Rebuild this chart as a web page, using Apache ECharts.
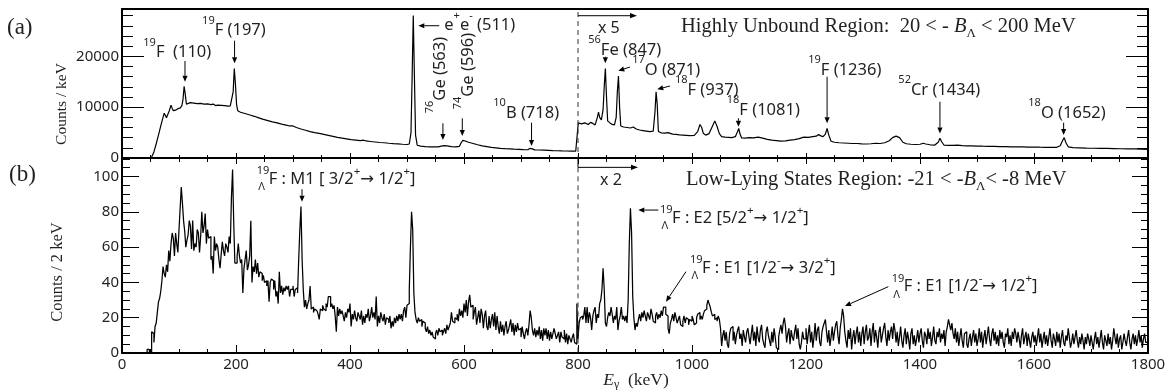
<!DOCTYPE html>
<html><head><meta charset="utf-8">
<script src="https://cdn.jsdelivr.net/npm/echarts@6/dist/echarts.min.js"></script>
<style>html,body{margin:0;padding:0;background:#fff}#c{width:1169px;height:390px}</style>
</head><body><div id="c"></div>
<script>
// ---------------- DATA ----------------
// Energy axis (keV)
const E_MIN = 0, E_MAX = 1800, E_STEP = 200;
const xTickLabels = ['0','200','400','600','800','1000','1200','1400','1600','1800'];
// Panel (a): counts / keV (region above 800 keV shown x5)
const topEnergy = [
 0,48,52,56,60,64,68,72,74,76,78,80,83,86,88,90,94,98,102,105,107,109,111,113,116,120,126,132,138,144,150,156,160,164,168,174,180,186,190,193,195,197,199,201,203,208,214,220,226,232,240,248,256,264,272,280,288,294,297,300,306,314,322,330,338,346,354,362,370,378,386,394,402,410,418,424,428,436,444,452,460,468,476,484,492,500,504,507,509,511,513,515,518,524,532,540,548,555,560,565,570,578,585,592,595,598,602,608,616,624,632,640,648,656,664,672,680,688,696,704,712,716,718,720,724,732,740,748,756,764,772,780,788,796,799.5,
 800.5,806,812,818,822,826,830,834,836,838,841,844,846,848,850,852,856,860,864,867,869,871,873,875,880,886,892,897,902,908,914,920,926,932,935,937,939,941,946,952,958,961,966,972,978,984,990,996,1004,1010,1014,1017,1020,1024,1030,1036,1040,1044,1048,1052,1058,1064,1070,1076,1080,1082,1084,1087,1094,1100,1108,1116,1124,1132,1140,1148,1156,1164,1172,1180,1188,1196,1204,1212,1218,1222,1226,1230,1234,1237,1240,1244,1250,1258,1266,1274,1282,1290,1298,1306,1314,1322,1330,1338,1346,1352,1358,1364,1370,1376,1384,1392,1400,1406,1410,1418,1426,1432,1435,1438,1442,1450,1458,1466,1474,1482,1490,1500,1510,1520,1530,1540,1550,1560,1570,1580,1590,1600,1610,1620,1630,1640,1646,1650,1653,1656,1660,1668,1680,1692,1704,1716,1728,1740,1752,1764,1776,1788,1800
];
const topCounts = [
 0,0,200,1200,2800,4500,6300,8000,8800,8400,7900,8200,9300,10400,9800,9300,9400,9700,9800,10300,11500,14100,12500,10600,10500,10900,10800,10700,10750,10600,10650,10500,10600,10300,10400,10350,10300,10200,10250,10500,13000,17600,14500,10500,9300,9000,8800,8600,8400,8200,7900,7600,7350,7100,6900,6650,6450,6300,6600,6300,6000,5700,5450,5200,5000,4850,4650,4450,4250,4050,3900,3750,3600,3500,3400,3500,3350,3250,3150,3050,3000,2900,2820,2760,2700,2650,2750,5000,16000,28000,16000,4500,2500,2350,2250,2200,2180,2200,2350,2450,2400,2250,2200,2300,3000,3450,3350,3100,2850,2600,2400,2250,2100,2000,1900,1830,1780,1730,1690,1650,1620,1900,2250,1800,1600,1570,1540,1500,1460,1430,1400,1380,1360,1340,1330,
 6900,6700,6900,6600,7000,6800,6500,8000,9000,8000,7500,9500,14000,17600,12000,7300,6900,6600,6500,8000,13000,16100,10000,6300,6100,6000,5900,6100,5700,5500,5400,5300,5200,5300,9000,13000,10500,5200,4950,4900,5000,4800,4700,4650,4550,4500,4450,4400,4450,5200,6600,6000,4800,4500,4800,6300,7300,6200,4800,4200,4100,4050,4000,4200,5200,5800,4800,3950,3900,4000,3950,4100,3900,3650,3500,3400,3300,3350,3500,3600,3800,4100,4050,4200,4300,4600,4350,4200,4700,5800,4500,3300,3100,3000,2950,2900,2850,2850,2780,2750,2800,2900,2850,3000,3400,4000,4300,4000,3100,2800,2700,2650,2700,2900,2750,2600,2550,3100,3900,3200,2550,2500,2480,2550,2450,2400,2380,2350,2320,2300,2280,2250,2250,2200,2200,2180,2150,2150,2120,2100,2080,2100,2400,3400,4000,3000,2200,2050,2000,1950,1920,1900,1880,1850,1820,1800,1780,1740,1700
];
// Panel (b): counts / 2 keV, 2 keV bins from 0 keV (region above 800 keV shown x2)
const lowBinWidth = 2;
const lowCounts = [
 0,0,0,0,0,0,0,0,0,0,0,0,0,0,0,0,0,0,0,0,0,0,0,2,2,0,0,12,11,6,15,17,23,29,31,35,41,49,45,43,50,46,58,52,62,68,65,55,68,62,
 57,70,82,94,85,75,69,60,64,67,75,72,59,75,58,62,60,70,68,57,66,80,68,72,79,62,70,65,66,53,55,45,66,58,62,60,53,48,56,63,58,55,62,60,57,66,62,88,104,74,
 51,51,55,62,55,51,53,34,48,53,58,47,50,55,75,40,49,46,53,45,51,43,46,45,41,44,40,41,38,41,29,40,42,41,36,41,32,35,28,46,34,38,33,37,35,38,36,38,32,36,
 36,38,32,36,37,34,53,70,83,53,36,26,30,25,28,30,38,25,26,23,25,24,25,22,19,25,24,27,25,24,28,26,32,32,26,28,25,27,21,12,26,21,25,22,24,21,18,23,20,25,
 23,28,15,22,19,24,20,18,23,21,19,24,16,21,17,22,20,25,18,21,26,20,23,19,32,15,21,17,23,20,18,22,16,20,19,17,21,14,18,15,20,17,21,18,22,19,22,18,24,26,
 20,27,28,36,60,80,70,34,23,19,17,20,18,19,15,18,17,14,12,15,11,13,10,12,9,8,11,13,10,14,12,13,10,12,14,11,16,13,15,17,23,18,17,20,19,22,18,25,21,24,
 20,28,23,30,21,29,33,26,27,19,23,26,16,20,24,17,25,22,14,21,24,15,13,21,14,19,22,15,23,13,21,15,11,18,12,16,10,15,18,11,13,16,19,12,17,10,16,12,17,13,
 14,9,15,11,8,12,14,10,16,24,20,13,10,14,9,13,10,15,8,13,7,14,10,14,8,13,7,12,8,11,14,11,8,10,12,6,12,9,8,13,6,11,5,10,8,6,9,11,6,5,
 28,8,17,20,21,19,21,26,17,26,17,23,20,13,21,24,26,17,22,20,28,30,36,48,36,17,15,20,23,21,26,22,17,21,19,26,13,18,21,26,19,21,18,21,17,30,62,82,68,32,
 20,13,17,15,19,22,18,23,20,24,21,18,23,21,19,25,22,18,17,21,23,19,22,20,24,21,26,26,22,21,14,11,17,19,22,18,23,20,17,19,21,16,15,18,21,17,20,19,16,19,
 18,21,19,16,17,20,22,23,19,21,19,22,24,25,27,30,28,26,23,21,22,19,20,18,21,19,14,4,10,13,7,12,5,3,11,14,15,7,12,5,10,13,15,8,11,4,13,9,6,12,
 14,9,5,11,16,7,12,4,15,9,6,13,16,8,5,3,12,15,10,7,4,12,6,14,9,3,2,9,13,16,11,17,20,15,6,11,14,5,13,9,7,12,16,8,14,5,2,6,12,8,
 8,14,5,11,16,6,12,3,9,17,7,13,15,6,4,12,15,17,19,12,6,13,4,9,15,7,12,16,18,10,5,14,19,25,21,12,7,3,13,8,14,2,9,13,5,11,15,6,12,4,
 11,15,5,12,16,7,9,14,4,12,17,6,13,9,3,12,15,6,10,14,17,9,4,13,7,12,15,8,17,13,6,12,4,9,15,7,3,10,14,5,12,8,2,11,14,5,10,4,8,13,
 6,11,14,7,3,12,10,5,14,8,12,4,9,15,7,5,12,9,14,6,11,8,13,4,12,15,19,16,13,17,11,8,14,6,12,4,9,14,7,3,11,12,5,3,8,11,4,9,13,6,
 11,4,8,14,6,12,3,9,13,5,10,15,8,4,11,14,7,12,5,10,4,13,8,12,6,3,11,9,14,5,10,4,12,8,14,11,6,12,8,3,10,14,5,9,12,4,11,7,3,9,
 12,6,10,4,9,14,6,11,3,8,12,5,10,4,9,14,7,3,11,8,4,12,6,11,3,9,13,6,4,10,7,14,9,3,6,11,5,9,13,7,3,9,5,11,7,2,9,5,11,8,
 4,10,6,2,8,12,5,9,3,8,13,6,2,10,7,4,11,5,9,2,7,14,9,5,11,3,8,10,2,6,11,7,4,9,13,6,2,8,11,5,10,4,8,13,6,10,3,8,11,6
];
const scaleBoundary = 800; // keV where the x5 / x2 scaling begins

// ---------------- STYLE / LAYOUT ----------------
const SANS = "'Noto Sans', 'DejaVu Sans', sans-serif";
const SERIF = "'Liberation Serif', 'DejaVu Serif', serif";
const INK = '#231f20';
const TOP_MAX = 29300, LOW_MAX = 110.5;

const chart = echarts.init(document.getElementById('c'), null, {renderer: 'canvas'});

function xAx(grid, pos, majorLen, minorLen, labels) {
  return {
    type: 'value', gridIndex: grid, position: pos, min: E_MIN, max: E_MAX, interval: E_STEP,
    axisLine: {show: true, onZero: false, lineStyle: {color: '#000', width: 2}},
    axisTick: {show: majorLen > 0, inside: true, length: majorLen, lineStyle: {color: '#000', width: 1}},
    minorTick: {show: minorLen > 0, splitNumber: 4, length: minorLen, lineStyle: {color: '#000', width: 1}},
    axisLabel: labels ? {show: true, fontFamily: SANS, fontSize: 15, color: INK, margin: 4,
      formatter: v => { const i = Math.round((v - E_MIN) / E_STEP); return (Math.abs(v - (E_MIN + i * E_STEP)) < 1e-6 && xTickLabels[i] !== undefined) ? xTickLabels[i] : ''; }} : {show: false},
    splitLine: {show: false}, minorSplitLine: {show: false}
  };
}
function yAx(grid, pos, max, interval, len, labelEvery, line) {
  return {
    type: 'value', gridIndex: grid, position: pos, min: 0, max: max, interval: interval,
    axisLine: {show: line, onZero: false, lineStyle: {color: '#000', width: 2}},
    axisTick: {show: true, inside: true, length: len, lineStyle: {color: '#000', width: 1}},
    axisLabel: labelEvery ? {show: true, fontFamily: SANS, fontSize: 15, color: INK, margin: 3,
      formatter: v => (Math.abs(v % labelEvery) < 1e-9 ? String(v) : '')} : {show: false},
    splitLine: {show: false}
  };
}

const lowData = lowCounts.map((v, i) => [i * lowBinWidth, v]);
lowData.push([lowCounts.length * lowBinWidth, lowCounts[lowCounts.length - 1]]);

chart.setOption({
  animation: false,
  backgroundColor: '#fff',
  textStyle: {fontFamily: SANS},
  grid: [
    {left: 122, right: 21, top: 9, height: 149, outerBoundsMode: 'none', containLabel: false},
    {left: 122, right: 21, top: 158, height: 195, outerBoundsMode: 'none', containLabel: false}
  ],
  xAxis: [
    xAx(0, 'bottom', 5, 3, false),
    xAx(0, 'top', 0, 0, false),
    xAx(1, 'bottom', 8, 4, true),
    xAx(1, 'top', 6, 4, false)
  ],
  yAxis: [
    yAx(0, 'left', TOP_MAX, 10000, 22, 10000, true),
    yAx(0, 'left', TOP_MAX, 2000, 11, 0, false),
    yAx(0, 'right', TOP_MAX, 10000, 22, 0, true),
    yAx(0, 'right', TOP_MAX, 2000, 11, 0, false),
    yAx(1, 'left', LOW_MAX, 20, 17, 20, true),
    yAx(1, 'left', LOW_MAX, 5, 8, 0, false),
    yAx(1, 'right', LOW_MAX, 20, 16, 0, true),
    yAx(1, 'right', LOW_MAX, 5, 7, 0, false)
  ],
  series: [
    {type: 'line', xAxisIndex: 0, yAxisIndex: 0, symbol: 'none', showSymbol: false,
     data: topEnergy.map((e, i) => [e, topCounts[i]]),
     lineStyle: {color: '#000', width: 1.2}, z: 3},
    {type: 'line', xAxisIndex: 2, yAxisIndex: 4, symbol: 'none', showSymbol: false, step: 'start',
     data: lowData, lineStyle: {color: '#000', width: 1.25}, z: 3}
  ]
});

// ---------------- ANNOTATIONS ----------------
const P = (g, x, y) => chart.convertToPixel(g === 0 ? {xAxisIndex: 0, yAxisIndex: 0} : {xAxisIndex: 2, yAxisIndex: 4}, [x, y]);
const els = [];
const FS = 16.5;
const richA = {
  n: {fontFamily: SANS, fontSize: FS, lineHeight: 30, fill: INK},
  s: {fontFamily: SANS, fontSize: 11, height: 10, verticalAlign: 'top', fill: INK},
  p: {fontFamily: SANS, fontSize: 11.5, height: 14, verticalAlign: 'top', fill: INK}
};
const richT = {
  n: {fontFamily: SERIF, fontSize: 20.5, lineHeight: 26, fill: INK},
  i: {fontFamily: SERIF, fontSize: 20.5, fontStyle: 'italic', lineHeight: 26, fill: INK},
  b: {fontFamily: SERIF, fontSize: 13, height: 13, verticalAlign: 'bottom', fill: INK}
};
function addText(x, y, text, rich, opt) {
  opt = opt || {};
  const st = {text: text, x: 0, y: 0, fill: INK, fontFamily: opt.family || SANS, fontSize: opt.size || FS,
    align: opt.align || 'left', textAlign: opt.align || 'left', verticalAlign: 'middle', textVerticalAlign: 'middle'};
  if (rich) st.rich = rich;
  els.push({type: 'text', x: x, y: y, rotation: opt.rot || 0, silent: true, z: 60, style: st});
}
function addArrow(a, b, head) {
  head = head || 6;
  const dx = b[0] - a[0], dy = b[1] - a[1], L = Math.hypot(dx, dy) || 1;
  const ux = dx / L, uy = dy / L, nx = -uy, ny = ux, w = 2.6;
  const bx = b[0] - ux * head, by = b[1] - uy * head;
  els.push({type: 'line', silent: true, z: 60, shape: {x1: a[0], y1: a[1], x2: bx, y2: by}, style: {stroke: '#000', lineWidth: 1}});
  els.push({type: 'polygon', silent: true, z: 60, shape: {points: [[b[0], b[1]], [bx + nx * w, by + ny * w], [bx - nx * w, by - ny * w]]}, style: {fill: '#000'}});
}

// Panel (a) peak labels: text anchor (left-middle, data coords) + arrow (tail, head)
const topNotes = [
  {t: '{s|19}{n|F  (110)}', at: [37.4, 20700], arrow: [[110.5, 19070], [110.5, 15000]]},
  {t: '{s|19}{n|F (197)}', at: [140.5, 25030], arrow: [[197.5, 23060], [197.5, 18620]]},
  {t: '{n|e}{s|+}{n|e}{s|-}{n| (511)}', at: [565.4, 26010], arrow: [[556.7, 26010], [519.8, 26010]]},
  {t: '{s|76}{n|Ge (563)}', at: [558, 16320], rot: true, arrow: [[563, 6820], [563, 3540]]},
  {t: '{s|74}{n|Ge (596)}', at: [607.5, 17100], rot: true, arrow: [[597, 7800], [597, 4330]]},
  {t: '{s|10}{n|B (718)}', at: [651.4, 8790], arrow: [[718.5, 6940], [718.5, 2360]]},
  {t: '{s|56}{n|Fe (847)}', at: [818, 21230], arrow: [[848, 19920], [848, 18620]]},
  {t: '{s|17}{n|O (871)}', at: [895, 17300], arrow: [[891.2, 17890], [870.7, 17160]]},
  {t: '{s|18}{n|F (937)}', at: [970, 13370], arrow: [[961.4, 14160], [939, 13510]]},
  {t: '{s|18}{n|F (1081)}', at: [1061, 9440], arrow: [[1081.5, 7800], [1081.5, 6150]]},
  {t: '{s|19}{n|F (1236)}', at: [1204, 17300], arrow: [[1237, 15980], [1237, 6820]]},
  {t: '{s|52}{n|Cr (1434)}', at: [1362, 13370], arrow: [[1435, 11070], [1435, 4800]]},
  {t: '{s|18}{n|O (1652)}', at: [1590, 8790], arrow: [[1652, 6940], [1652, 4520]]}
];
topNotes.forEach(n => {
  const p = P(0, n.at[0], n.at[1]);
  if (n.rot) addText(p[0], p[1], n.t, richA, {align: 'center', rot: Math.PI / 2});
  else addText(p[0], p[1], n.t, richA);
  addArrow(P(0, n.arrow[0][0], n.arrow[0][1]), P(0, n.arrow[1][0], n.arrow[1][1]));
});

// Panel (b) hypernuclear transitions
const lowNotes = [
  {t: '{n|F : M1 [ 3/2}{p|+}{n|→ 1/2}{p|+}{n|]}', at: [236.3, 98.4], arrow: [[315.8, 92.8], [315.8, 85.7]]},
  {t: '{n|F : E2 [5/2}{p|+}{n|→ 1/2}{p|+}{n|]}', at: [943.9, 76.3], arrow: [[940.9, 81.0], [905.8, 81.0]]},
  {t: '{n|F : E1 [1/2}{p|-}{n|→ 3/2}{p|+}{n|]}', at: [996.5, 48.0], arrow: [[989.5, 46.1], [954.4, 29.1]]},
  {t: '{n|F : E1 [1/2}{p|-}{n|→ 1/2}{p|+}{n|]}', at: [1350.4, 37.6], arrow: [[1344.4, 37.6], [1268.4, 26.6]]}
];
lowNotes.forEach(n => {
  const p = P(1, n.at[0], n.at[1]);
  addText(p[0], p[1] - 8, '19', null, {size: 11});
  addText(p[0] + 1.5, p[1] + 8, 'Λ', null, {size: 11});
  addText(p[0] + 12, p[1], n.t, richA);
  addArrow(P(1, n.arrow[0][0], n.arrow[0][1]), P(1, n.arrow[1][0], n.arrow[1][1]));
});

// Region titles and scale markers
let p = P(0, 980.7, 25750);
addText(p[0], p[1], '{n|Highly Unbound Region:  20 < - }{i|B}{b|Λ}{n| < 200 MeV}', richT, {family: SERIF, size: 20.5});
p = P(1, 989.5, 98.0);
addText(p[0], p[1], '{n|Low-Lying States Region: -21 < -}{i|B}{b|Λ}{n|< -8 MeV}', richT, {family: SERIF, size: 20.5});
p = P(0, 835, 25560); addText(p[0], p[1], 'x 5', null, {size: 16});
p = P(1, 838.6, 98.0); addText(p[0], p[1], 'x 2', null, {size: 16});

// dashed boundary line at 800 keV
let a = P(0, scaleBoundary, 28700), b = P(0, scaleBoundary, 0);
els.push({type: 'line', silent: true, z: 55, shape: {x1: a[0], y1: a[1], x2: b[0], y2: b[1]}, style: {stroke: '#333', lineWidth: 1, lineDash: [5, 4]}});
a = P(1, scaleBoundary, 105.2); b = P(1, scaleBoundary, 0);
els.push({type: 'line', silent: true, z: 55, shape: {x1: a[0], y1: a[1], x2: b[0], y2: b[1]}, style: {stroke: '#333', lineWidth: 1, lineDash: [5, 4]}});
// x5 arrow
addArrow(P(0, scaleBoundary, 27980), P(0, 903.5, 27980), 7);
// x2 arrow with stub
a = P(1, scaleBoundary, LOW_MAX); b = P(1, scaleBoundary, 105.2);
els.push({type: 'line', silent: true, z: 60, shape: {x1: a[0], y1: a[1], x2: b[0], y2: b[1]}, style: {stroke: '#000', lineWidth: 1}});
addArrow(b, P(1, 905.3, 105.2), 7);

// panel tags and axis titles
addText(7, 28, '(a)', null, {family: SERIF, size: 23});
addText(9, 175, '(b)', null, {family: SERIF, size: 23});
addText(62, 104, 'Counts / keV', null, {family: SERIF, size: 15.5, align: 'center', rot: Math.PI / 2});
addText(58, 272, 'Counts / 2 keV', null, {family: SERIF, size: 16.5, align: 'center', rot: Math.PI / 2});
addText(636, 380, '{i|E}{b|γ}{n|  (keV)}', {
  n: {fontFamily: SERIF, fontSize: 17.5, lineHeight: 22, fill: INK},
  i: {fontFamily: SERIF, fontSize: 17.5, fontStyle: 'italic', lineHeight: 22, fill: INK},
  b: {fontFamily: SERIF, fontSize: 12, height: 12, verticalAlign: 'bottom', fill: INK}
}, {family: SERIF, size: 17.5, align: 'center'});

chart.setOption({graphic: {elements: els}});
</script>
</body></html>
